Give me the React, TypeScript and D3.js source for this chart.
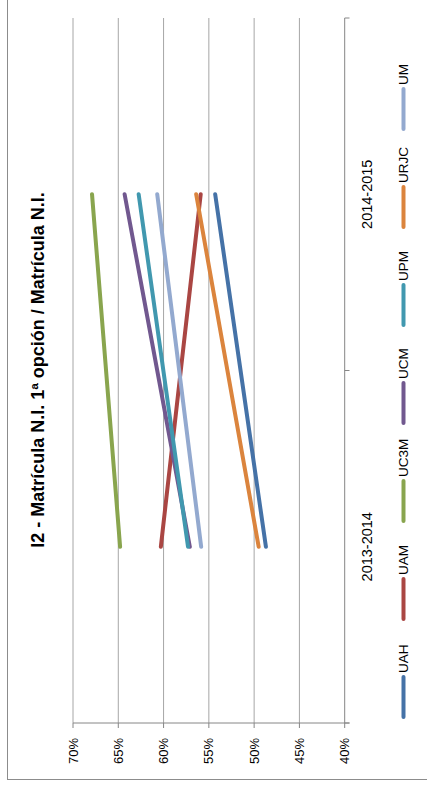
import React from "react";
import * as d3 from "d3";

const title = "I2 - Matrícula N.I. 1ª opción / Matrícula N.I.";
const categories = ["2013-2014", "2014-2015"];
const seriesNames = ["UAH", "UAM", "UC3M", "UCM", "UPM", "URJC", "UM"];
const seriesColors = ["#4572A7", "#AA4643", "#89A54E", "#71588F", "#4198AF", "#DB843D", "#93A9CF"];
const val2013 = [0.487, 0.603, 0.648, 0.571, 0.573, 0.495, 0.5585];
const val2014 = [0.543, 0.559, 0.679, 0.643, 0.6275, 0.564, 0.607];
const valueTicks = [0.7, 0.65, 0.6, 0.55, 0.5, 0.45, 0.4];

const W = 427;
const H = 789;
const FONT = "'Liberation Sans', Arial, sans-serif";

export default function App() {
  const x = d3.scaleLinear().domain([0.7, 0.4]).range([73, 344.7]);
  const y = d3.scaleBand<string>().domain(["2014-2015", "2013-2014"]).range([18, 723]).padding(0);
  const cy = (c: string) => (y(c) as number) + y.bandwidth() / 2;
  const fmt = d3.format(".0%");

  const series = seriesNames.map((name, i) => ({
    name,
    color: seriesColors[i],
    pts: [
      { c: categories[0], v: val2013[i] },
      { c: categories[1], v: val2014[i] },
    ],
  }));

  const line = d3
    .line<{ c: string; v: number }>()
    .x((d) => x(d.v))
    .y((d) => cy(d.c));

  const legendX = 403.5;
  const legendBase = 717;
  const legendStep = 98;
  const swatch = 40;

  const catTicks = [18, 18 + y.bandwidth(), 723];

  return (
    <svg
      width={W}
      height={H}
      style={{ position: "absolute", left: 0, top: 0, background: "#fff" }}
      fontFamily={FONT}
    >
      <rect x={7.5} y={-5} width={W + 10} height={784.5} fill="#fff" stroke="#8c8c8c" strokeWidth={1} />
      {valueTicks.slice(0, -1).map((t) => (
        <line key={"g" + t} x1={x(t)} x2={x(t)} y1={18} y2={723} stroke="#a6a6a6" strokeWidth={1} />
      ))}
      <line x1={x(0.7)} x2={349.5} y1={723} y2={723} stroke="#868686" strokeWidth={1} />
      {valueTicks.map((t) => (
        <line key={"vt" + t} x1={x(t)} x2={x(t)} y1={723} y2={728} stroke="#868686" strokeWidth={1} />
      ))}
      {valueTicks.map((t) => (
        <text
          key={"vl" + t}
          transform={`translate(${x(t)},738) rotate(-90)`}
          textAnchor="end"
          dy="0.35em"
          fontSize={13}
          fill="#000"
        >
          {fmt(t)}
        </text>
      ))}
      <line x1={x(0.4)} x2={x(0.4)} y1={18} y2={723} stroke="#868686" strokeWidth={1} />
      {catTicks.map((t, i) => (
        <line key={"ct" + i} x1={x(0.4)} x2={349.5} y1={t} y2={t} stroke="#868686" strokeWidth={1} />
      ))}
      {categories.map((c) => (
        <text
          key={"cl" + c}
          transform={`translate(367,${cy(c)}) rotate(-90)`}
          textAnchor="middle"
          dy="0.35em"
          fontSize={14.5}
          fill="#000"
        >
          {c}
        </text>
      ))}
      {series.map((s) => (
        <path
          key={s.name}
          d={line(s.pts) as string}
          fill="none"
          stroke={s.color}
          strokeWidth={4}
          strokeLinecap="round"
        />
      ))}
      <text
        transform={`translate(37.5,370) rotate(-90)`}
        textAnchor="middle"
        dy="0.35em"
        fontSize={18}
        fontWeight="bold"
        fill="#000"
      >
        {title}
      </text>
      {series.map((s, i) => {
        const bottom = legendBase - i * legendStep;
        const top = bottom - swatch;
        return (
          <g key={"lg" + s.name}>
            <line x1={legendX} x2={legendX} y1={top} y2={bottom} stroke={s.color} strokeWidth={4} strokeLinecap="round" />
            <text
              transform={`translate(${legendX},${top - 4}) rotate(-90)`}
              textAnchor="start"
              dy="0.35em"
              fontSize={13.5}
              fill="#000"
            >
              {s.name}
            </text>
          </g>
        );
      })}
    </svg>
  );
}
